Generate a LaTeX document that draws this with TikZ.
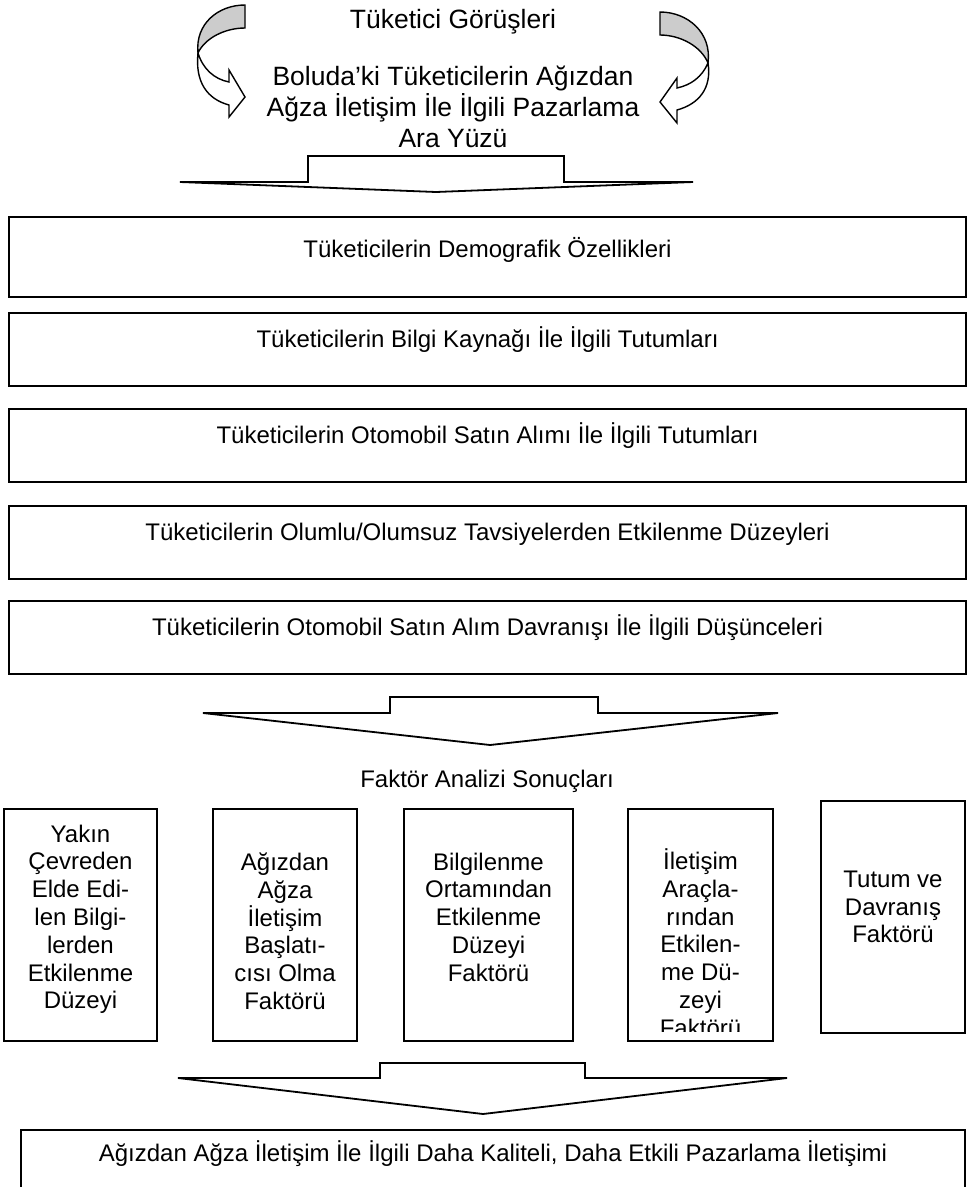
\documentclass[tikz,border=0pt]{standalone}
\usepackage{fontspec}
\setmainfont{Liberation Sans}
\usepackage{tikz}
\usetikzlibrary{positioning}

\newcommand{\kutuyazi}{\fontsize{24}{27.8}\selectfont}
\newcommand{\basyazi}{\fontsize{26.5}{31}\selectfont}

\begin{document}
\begin{tikzpicture}[x=1pt,y=-1pt,
		kutu/.style={draw,line width=2pt,inner sep=0pt,minimum width=957pt,text height=34pt,text depth=39pt,font=\kutuyazi},
		sutun/.style={draw,line width=2pt,inner sep=0pt,minimum height=232pt},
		yazi/.style={align=center,inner sep=0pt,font=\kutuyazi},
		blok/.style={draw,line width=1.8pt,line join=miter,fill=white},
		kivrik/.style={draw,line width=1.4pt,line join=miter}]
				\useasboundingbox (0,0) rectangle (976,1187);
				\clip (0,0) rectangle (976,1187);

				%Nodes
				\node[font=\basyazi,inner sep=0pt,anchor=base] (gorus) at (453,28) {Tüketici Görüşleri};
				\node[font=\basyazi,align=center,inner sep=0pt,anchor=north] (arayuz) at (453,66) {Boluda’ki Tüketicilerin Ağızdan\\Ağza İletişim İle İlgili Pazarlama\\Ara Yüzü};

				\node[kutu,text height=40pt,text depth=40pt,anchor=north] (demografik) at (487.5,216) {Tüketicilerin Demografik Özellikleri};
				\node[kutu,anchor=north] (bilgi) at (487.5,312) {Tüketicilerin Bilgi Kaynağı İle İlgili Tutumları};
				\node[kutu,anchor=north] (satinalim) at (487.5,408) {Tüketicilerin Otomobil Satın Alımı İle İlgili Tutumları};
				\node[kutu,anchor=north] (tavsiye) at (487.5,505) {Tüketicilerin Olumlu/Olumsuz Tavsiyelerden Etkilenme Düzeyleri};
				\node[kutu,anchor=north] (davranis) at (487.5,600) {Tüketicilerin Otomobil Satın Alım Davranışı İle İlgili Düşünceleri};

				\node[yazi,anchor=base] (faktor) at (487,787) {Faktör Analizi Sonuçları};

				\node[sutun,minimum width=153pt,anchor=north] (s1) at (80.5,808) {};
				\node[sutun,minimum width=144pt,anchor=north] (s2) at (285,808) {};
				\node[sutun,minimum width=169pt,anchor=north] (s3) at (488.5,808) {};
				\node[sutun,minimum width=145pt,anchor=north] (s4) at (700.5,808) {};
				\node[sutun,minimum width=144pt,anchor=north] (s5) at (893,800) {};

				\node[yazi,anchor=north] (y1) at (80.5,824.5) {Yakın\\Çevreden\\Elde Edi-\\len Bilgi-\\lerden\\Etkilenme\\Düzeyi};
				\node[yazi,anchor=north] (y2) at (285,852.5) {Ağızdan\\Ağza\\İletişim\\Başlatı-\\cısı Olma\\Faktörü};
				\node[yazi,anchor=north] (y3) at (488.5,852.5) {Bilgilenme\\Ortamından\\Etkilenme\\Düzeyi\\Faktörü};
				\begin{scope}
					\clip (628,808) rectangle (773,1031);
					\node[yazi,anchor=north] (y4) at (700.5,848.5) {İletişim\\Araçla-\\rından\\Etkilen-\\me Dü-\\zeyi\\Faktörü};
				\end{scope}
				\node[yazi,anchor=north] (y5) at (893,870.5) {Tutum ve\\Davranış\\Faktörü};

				\node[kutu,minimum width=944pt,text height=31pt,text depth=70pt,anchor=north] (sonuc) at (493,1129) {Ağızdan Ağza İletişim İle İlgili Daha Kaliteli, Daha Etkili Pazarlama İletişimi};

				\coordinate      (a0) 	at 	(180,182);
				\coordinate      (a1) 	at 	(308,156);
				\coordinate      (a2) 	at 	(564,156);
				\coordinate      (a3) 	at 	(693,182);
				\coordinate      (a4) 	at 	(436,192);
				\coordinate      (b0) 	at 	(203,713);
				\coordinate      (b1) 	at 	(390,697);
				\coordinate      (b2) 	at 	(598,697);
				\coordinate      (b3) 	at 	(778,713);
				\coordinate      (b4) 	at 	(490,745);
				\coordinate      (c0) 	at 	(178,1078);
				\coordinate      (c1) 	at 	(380,1063);
				\coordinate      (c2) 	at 	(585,1063);
				\coordinate      (c3) 	at 	(787,1078);
				\coordinate      (c4) 	at 	(483,1114);

				%Lines
				\draw[blok] (a0) -- (a1 |- a0) -- (a1) -- (a2) -- (a2 |- a3) -- (a3) -- (a4) -- cycle;
				\draw[blok] (b0) -- (b1 |- b0) -- (b1) -- (b2) -- (b2 |- b3) -- (b3) -- (b4) -- cycle;
				\draw[blok] (c0) -- (c1 |- c0) -- (c1) -- (c2) -- (c2 |- c3) -- (c3) -- (c4) -- cycle;

				%Curved arrows
				\draw[kivrik,fill=black!20] (245,5) -- (245,28) .. controls (225,28) and (205,38) .. (198,53) .. controls (195,24) and (218,5) .. (245,5) -- cycle;
				\draw[kivrik,fill=white] (198,53) .. controls (203,69) and (214,79) .. (229,82) -- (229,70) -- (245,97) -- (229,117) -- (229,105) .. controls (207,99) and (195,82) .. (198,53) -- cycle;
				\draw[kivrik,fill=black!20] (660,12) -- (660,35) .. controls (680,35) and (701,46) .. (708,63) .. controls (712,33) and (688,12) .. (660,12) -- cycle;
				\draw[kivrik,fill=white] (708,63) .. controls (702,77) and (691,85) .. (677,88) -- (677,78) -- (660,102) -- (677,123) -- (677,110) .. controls (699,104) and (712,88) .. (708,63) -- cycle;

		\end{tikzpicture}
\end{document}
